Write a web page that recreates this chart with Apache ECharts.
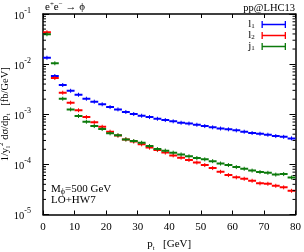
<!DOCTYPE html>
<html><head><meta charset="utf-8">
<script src="https://cdn.jsdelivr.net/npm/echarts@6/dist/echarts.min.js"></script>
<style>html,body{margin:0;padding:0;background:#fff}#c{width:304px;height:252px}</style>
</head><body><div id="c"></div>
<script>
const binEdges = [0,2.5,5,7.5,10,12.5,15,17.5,20,22.5,25,27.5,30,32.5,35,37.5,40,42.5,45,47.5,50,52.5,55,57.5,60,62.5,65,67.5,70,72.5,75,77.5,80];
const l1 = [1.34e-2,5.79e-3,3.83e-3,2.94e-3,2.45e-3,2.04e-3,1.78e-3,1.58e-3,1.39e-3,1.25e-3,1.11e-3,1.01e-3,9.33e-4,8.79e-4,8.13e-4,7.66e-4,7.22e-4,6.76e-4,6.52e-4,6.17e-4,5.81e-4,5.48e-4,5.19e-4,5.00e-4,4.77e-4,4.48e-4,4.22e-4,4.08e-4,3.90e-4,3.67e-4,3.54e-4,3.30e-4];
const l2 = [4.32e-2,5.28e-3,2.69e-3,1.70e-3,1.20e-3,8.79e-4,6.89e-4,5.63e-4,4.48e-4,3.76e-4,3.15e-4,2.85e-4,2.51e-4,2.16e-4,1.93e-4,1.72e-4,1.51e-4,1.36e-4,1.22e-4,1.09e-4,9.68e-5,8.43e-5,7.11e-5,6.11e-5,5.51e-5,5.16e-5,4.71e-5,4.18e-5,4.10e-5,3.74e-5,3.48e-5,2.97e-5];
const j1 = [3.94e-2,1.04e-2,2.04e-3,1.25e-3,9.21e-4,7.08e-4,5.81e-4,5.07e-4,4.16e-4,3.79e-4,3.15e-4,2.92e-4,2.70e-4,2.32e-4,2.02e-4,1.88e-4,1.71e-4,1.58e-4,1.45e-4,1.34e-4,1.26e-4,1.16e-4,1.04e-4,9.68e-5,8.83e-5,8.17e-5,7.52e-5,7.02e-5,6.79e-5,6.25e-5,6.40e-5,5.46e-5];
const seriesNames = ['l1','l2','j1'];
const seriesColors = ['#0000ff','#ff0000','#0c7a0c'];
const yMinorTicks = [2e-5,3e-5,4e-5,5e-5,6e-5,7e-5,8e-5,9e-5,2e-4,3e-4,4e-4,5e-4,6e-4,7e-4,8e-4,9e-4,2e-3,3e-3,4e-3,5e-3,6e-3,7e-3,8e-3,9e-3,2e-2,3e-2,4e-2,5e-2,6e-2,7e-2,8e-2,9e-2];

const FONT = '"Liberation Serif","Times New Roman",serif';
const chart = echarts.init(document.getElementById('c'), null, {renderer:'canvas'});

function toData(vals){ return vals.map((v,i)=>[binEdges[i], binEdges[i+1], v]); }
function histSeries(name, vals, color){
  return {
    type:'custom', name:name, itemStyle:{color:color}, clip:true,
    encode:{x:[0,1], y:2},
    data: toData(vals),
    renderItem:function(params, api){
      const a = api.coord([api.value(0), api.value(2)]);
      const b = api.coord([api.value(1), api.value(2)]);
      const cx = (a[0]+b[0])/2;
      return {type:'group', children:[
        {type:'line', shape:{x1:a[0], y1:a[1], x2:b[0], y2:b[1]}, style:{stroke:color, lineWidth:2}},
        {type:'line', shape:{x1:cx, y1:a[1]-2, x2:cx, y2:a[1]+2}, style:{stroke:color, lineWidth:1}}
      ]};
    }
  };
}
const minorTickSeries = {
  type:'custom', silent:true, data: yMinorTicks.map(v=>[v]), encode:{y:0},
  renderItem:function(params, api){
    const v = api.value(0);
    const p = api.coord([0, v]);
    const q = api.coord([80, v]);
    return {type:'group', children:[
      {type:'line', shape:{x1:p[0], y1:p[1], x2:p[0]+3, y2:p[1]}, style:{stroke:'#000', lineWidth:1}},
      {type:'line', shape:{x1:q[0]-3, y1:q[1], x2:q[0], y2:q[1]}, style:{stroke:'#000', lineWidth:1}}
    ]};
  }
};

const axisLine = {show:true, onZero:false, lineStyle:{color:'#000', width:1.5}};
const option = {
  animation:false,
  backgroundColor:'#fff',
  grid:{left:43, right:8.5, top:14, bottom:37.5, containLabel:false, outerBoundsMode:'none'},
  xAxis:[{
    type:'value', min:0, max:80, interval:10, position:'bottom',
    axisLine:axisLine, axisTick:{inside:true, length:4, lineStyle:{color:'#000', width:1}},
    splitLine:{show:false},
    axisLabel:{color:'#000', fontFamily:FONT, fontSize:11, margin:7},
    name:'p{sub|t}   [GeV]', nameLocation:'middle', nameGap:23, nameMoveOverlap:false,
    nameTextStyle:{color:'#000', fontFamily:FONT, fontSize:11, rich:{sub:{fontSize:7, verticalAlign:'bottom', lineHeight:14, fontFamily:FONT, color:'#000'}}}
  },{
    type:'value', min:0, max:80, interval:10, position:'top',
    axisLine:axisLine, axisTick:{inside:true, length:4, lineStyle:{color:'#000', width:1}},
    axisLabel:{show:false}, splitLine:{show:false}
  }],
  yAxis:[{
    type:'log', min:1e-5, max:1e-1, logBase:10, position:'left',
    axisLine:axisLine, axisTick:{inside:true, length:6, lineStyle:{color:'#000', width:1}},
    splitLine:{show:false},
    axisLabel:{color:'#000', fontFamily:FONT, fontSize:10, margin:12,
      formatter:function(v){ const e = Math.round(Math.log10(v)); return '{b|10}{s|'+e+'}'; },
      rich:{b:{fontSize:10.5, fontFamily:FONT, color:'#000', lineHeight:15, verticalAlign:'bottom'}, s:{fontSize:8, fontFamily:FONT, color:'#000', verticalAlign:'top', lineHeight:9}}},
    name:'1/y{sub|l}{sup|2} dσ/dp{sub|t}   [fb/GeV]', nameLocation:'middle', nameGap:31, nameRotate:90, nameMoveOverlap:false,
    nameTextStyle:{color:'#000', fontFamily:FONT, fontSize:10.5, rich:{
      sub:{fontSize:7, verticalAlign:'bottom', lineHeight:14, fontFamily:FONT, color:'#000'},
      sup:{fontSize:7, verticalAlign:'top', lineHeight:14, fontFamily:FONT, color:'#000'}}}
  },{
    type:'log', min:1e-5, max:1e-1, logBase:10, position:'right',
    axisLine:axisLine, axisTick:{inside:true, length:6, lineStyle:{color:'#000', width:1}},
    axisLabel:{show:false}, splitLine:{show:false}
  }],
  legend:{
    data:seriesNames, orient:'vertical', align:'right', right:18, top:19, padding:0,
    itemWidth:28, itemHeight:7, itemGap:0,
    icon:'path://M0,0h1.5v8h-1.5z M1.5,3.2h25v1.6h-25z M26.5,0h1.5v8h-1.5z',
    formatter:function(n){ return n.charAt(0)+'{s|'+n.slice(1)+'}'; },
    textStyle:{color:'#000', fontFamily:FONT, fontSize:11, lineHeight:11,
      rich:{s:{fontSize:7, fontFamily:FONT, color:'#000', verticalAlign:'bottom', lineHeight:11}}}
  },
  graphic:[
    {type:'text', x:45, y:7, style:{text:'e{sup|+}e{sup|−} → ϕ', font:'11px '+FONT, fill:'#000', verticalAlign:'middle',
      rich:{sup:{fontSize:7, fontFamily:FONT, verticalAlign:'top', lineHeight:12, fill:'#000'}}}},
    {type:'text', x:295, y:8, style:{text:'pp@LHC13', font:'10.5px '+FONT, fill:'#000', align:'right', verticalAlign:'middle'}},
    {type:'text', x:51, y:189, style:{text:'M{sub|ϕ}=500 GeV', font:'11px '+FONT, fill:'#000', verticalAlign:'middle',
      rich:{sub:{fontSize:8, fontFamily:FONT, verticalAlign:'bottom', lineHeight:14, fill:'#000'}}}},
    {type:'text', x:51, y:200, style:{text:'LO+HW7', font:'11px '+FONT, fill:'#000', verticalAlign:'middle'}}
  ],
  series:[histSeries('l1', l1, seriesColors[0]), histSeries('l2', l2, seriesColors[1]), histSeries('j1', j1, seriesColors[2]), minorTickSeries]
};
chart.setOption(option);
</script></body></html>
